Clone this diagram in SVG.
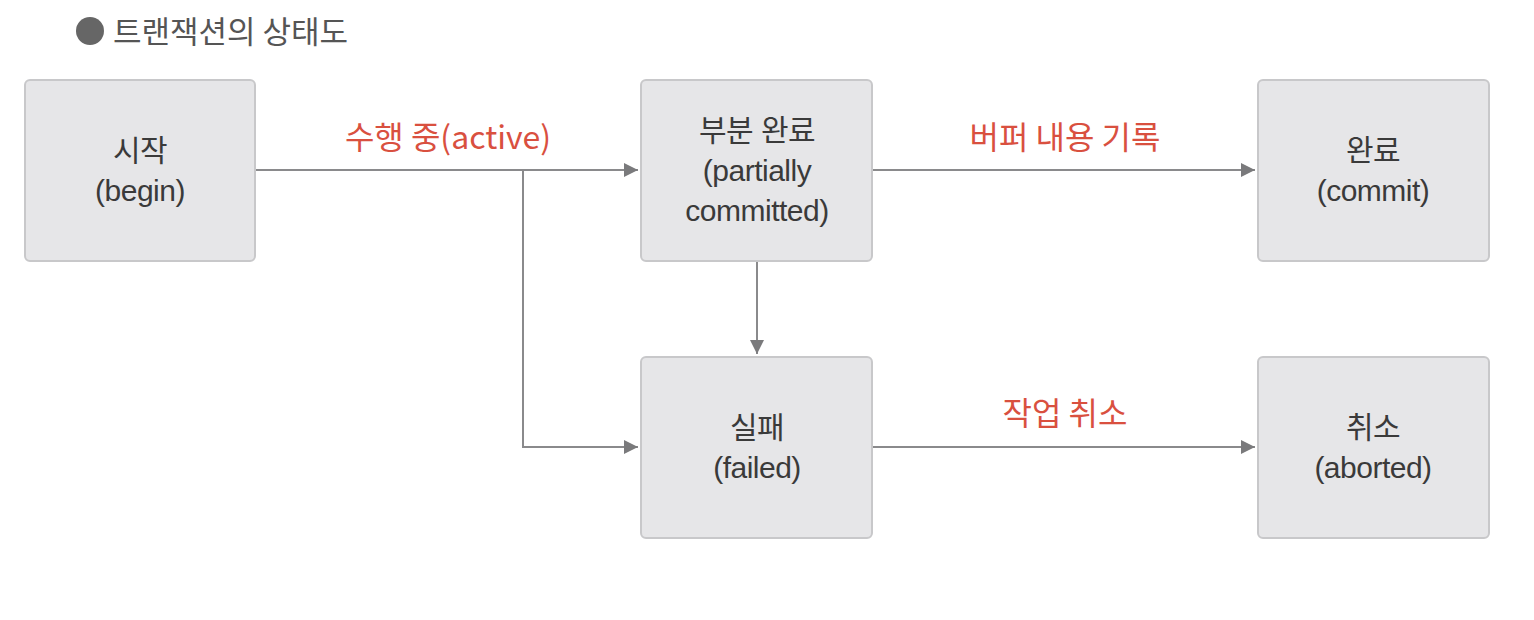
<svg xmlns="http://www.w3.org/2000/svg" width="1534" height="620" viewBox="0 0 1534 620">
<style>
.box{fill:#e6e6e8;stroke:#c8c8ca;stroke-width:2}
.nt{font-family:"Liberation Sans","Noto Sans CJK KR",sans-serif;font-size:30px;fill:#3a3a3a;text-anchor:middle;letter-spacing:-0.5px}
.lb{font-family:"Noto Sans CJK KR","Liberation Sans",sans-serif;font-size:32px;fill:#d9503f;text-anchor:middle}
.ln{fill:none;stroke:#8a8a8c;stroke-width:2}
</style>
<defs>
<marker id="ah" viewBox="0 0 10 10" refX="10" refY="5" markerWidth="14" markerHeight="14" markerUnits="userSpaceOnUse" orient="auto">
<path d="M0,0 L10,5 L0,10 z" fill="#7a7a7c"/>
</marker>
</defs>
<rect width="1534" height="620" fill="#ffffff"/>
<g id="title">
<circle cx="90" cy="31" r="14" fill="#666666"/>
<text x="113" y="43" font-family="Noto Sans CJK KR,sans-serif" font-size="31" fill="#555555">트랜잭션의 상태도</text>
</g>
<g id="connectors">
<line class="ln" x1="256" y1="170" x2="638" y2="170" marker-end="url(#ah)"/>
<polyline class="ln" points="523,170 523,447 638,447" marker-end="url(#ah)"/>
<line class="ln" x1="757" y1="262" x2="757" y2="354" marker-end="url(#ah)"/>
<line class="ln" x1="873" y1="170" x2="1255" y2="170" marker-end="url(#ah)"/>
<line class="ln" x1="873" y1="447" x2="1255" y2="447" marker-end="url(#ah)"/>
<text class="lb" x="448" y="149">수행 중(active)</text>
<text class="lb" x="1065" y="149">버퍼 내용 기록</text>
<text class="lb" x="1065" y="425">작업 취소</text>
</g>
<g id="begin">
<rect class="box" x="25" y="80" width="230" height="181" rx="5"/>
<text class="nt" x="140" y="161">시작</text>
<text class="nt" x="140" y="201">(begin)</text>
</g>
<g id="partial">
<rect class="box" x="641" y="80" width="231" height="181" rx="5"/>
<text class="nt" x="757" y="141">부분 완료</text>
<text class="nt" x="757" y="181">(partially</text>
<text class="nt" x="757" y="221">committed)</text>
</g>
<g id="commit">
<rect class="box" x="1258" y="80" width="231" height="181" rx="5"/>
<text class="nt" x="1373" y="161">완료</text>
<text class="nt" x="1373" y="201">(commit)</text>
</g>
<g id="failed">
<rect class="box" x="641" y="357" width="231" height="181" rx="5"/>
<text class="nt" x="757" y="438">실패</text>
<text class="nt" x="757" y="478">(failed)</text>
</g>
<g id="aborted">
<rect class="box" x="1258" y="357" width="231" height="181" rx="5"/>
<text class="nt" x="1373" y="438">취소</text>
<text class="nt" x="1373" y="478">(aborted)</text>
</g>
</svg>
